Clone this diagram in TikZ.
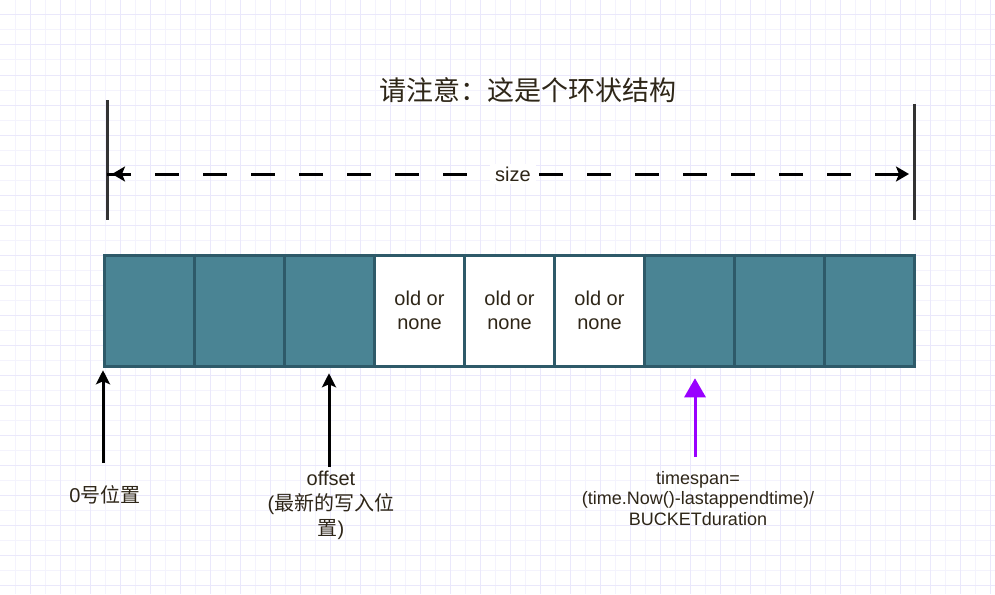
\documentclass[tikz,border=0pt]{standalone}
\usepackage{fontspec}
\setmainfont{Liberation Sans}
\newfontfamily\cjk{Noto Sans CJK SC}
\usetikzlibrary{arrows.meta}
\definecolor{txt}{HTML}{2E2618}
\definecolor{teal}{HTML}{4A8494}
\definecolor{tealdark}{HTML}{2E5A69}
\definecolor{gridminor}{HTML}{F4F3FD}
\definecolor{gridmajor}{HTML}{EAE8FB}
\definecolor{violet}{HTML}{9900FF}
\tikzset{
  cell/.style={draw=tealdark, line width=3pt, minimum width=90pt, minimum height=111pt, inner sep=0pt, outer sep=0pt},
  fullcell/.style={cell, fill=teal},
  emptycell/.style={cell, fill=white, text=txt, align=center, font=\fontsize{20}{24}\selectfont},
  bar/.style={line width=3pt, draw=black!80},
  ptr/.style={line width=3pt, black, -{Stealth[length=14pt,width=14pt,inset=3pt]}},
  vptr/.style={line width=3pt, violet, -{Triangle[length=19pt,width=21pt]}},
  lbl/.style={text=txt, align=center, inner sep=0pt},
  dimline/.style={line width=3pt, black, dash pattern=on 24pt off 24pt},
  dimtip/.style={line width=3pt, black, -{Stealth[length=13pt,width=15pt,inset=3pt]}}
}
\begin{document}
\begin{tikzpicture}[x=1pt,y=-1pt]
\fill[white] (0,0) rectangle (995,594);
\useasboundingbox (0,0) rectangle (995,594);
% grid
\foreach \gx in {15,45,...,990} \draw[gridminor, line width=1pt] (\gx,0) -- (\gx,594);
\foreach \gy in {30,60,...,590} \draw[gridminor, line width=1pt] (0,\gy) -- (995,\gy);
\foreach \gx in {30,60,...,990} \draw[gridmajor, line width=1pt] (\gx,0) -- (\gx,594);
\foreach \gy in {15,45,...,590} \draw[gridmajor, line width=1pt] (0,\gy) -- (995,\gy);

% title
\node[lbl, font=\cjk\fontsize{27}{32}\selectfont] (title) at (528,90) {请注意：这是个环状结构};

% size bars
\coordinate (bl1) at (107,100);
\coordinate (bl2) at (107,220);
\coordinate (br1) at (914,104);
\coordinate (br2) at (914,220);
\draw[bar] (bl1) -- (bl2);
\draw[bar] (br1) -- (br2);
\coordinate (dl) at (107,174);
\coordinate (dr) at (914,174);
\draw[dimline] (dl) -- (dr);
\draw[dimtip] ([xshift=20pt]dl) -- ([xshift=5pt]dl);
\draw[dimtip] ([xshift=-20pt]dr) -- ([xshift=-5pt]dr);
\node[fill=white, text=txt, inner sep=0pt, minimum width=46pt, minimum height=20pt, font=\fontsize{20}{24}\selectfont] (sz) at (513,174) {size};

% cells
\node[fullcell] (c1) at (149.5,310.75) {};
\node[fullcell] (c2) at (239.5,310.75) {};
\node[fullcell] (c3) at (329.5,310.75) {};
\node[emptycell] (c4) at (419.5,310.75) {old or\\none};
\node[emptycell] (c5) at (509.5,310.75) {old or\\none};
\node[emptycell] (c6) at (599.5,310.75) {old or\\none};
\node[fullcell] (c7) at (689.5,310.75) {};
\node[fullcell] (c8) at (779.5,310.75) {};
\node[fullcell] (c9) at (869.5,310.75) {};

% pointers
\coordinate (p0) at (103,463);
\coordinate (p1) at (329,467);
\coordinate (p2) at (695,457);
\draw[ptr] (p0) -- ([shift={(-1.5,4)}]c1.south west);
\draw[ptr] (p1) -- ([shift={(-0.5,7)}]c3.south);
\draw[vptr] (p2) -- ([shift={(5.5,12)}]c7.south);

% labels
\node[lbl, font=\fontsize{20}{24}\selectfont] (l0) at (105,495) {0{\cjk 号位置}};
\node[lbl, font=\fontsize{20}{25}\selectfont] (l1) at (331,505) {offset\\({\cjk 最新的写入位}\\{\cjk 置})};
\node[lbl, font=\fontsize{18}{20.5}\selectfont] (l2) at (698,498.5) {timespan=\\(time.Now()-lastappendtime)/\\BUCKETduration};
\end{tikzpicture}
\end{document}
